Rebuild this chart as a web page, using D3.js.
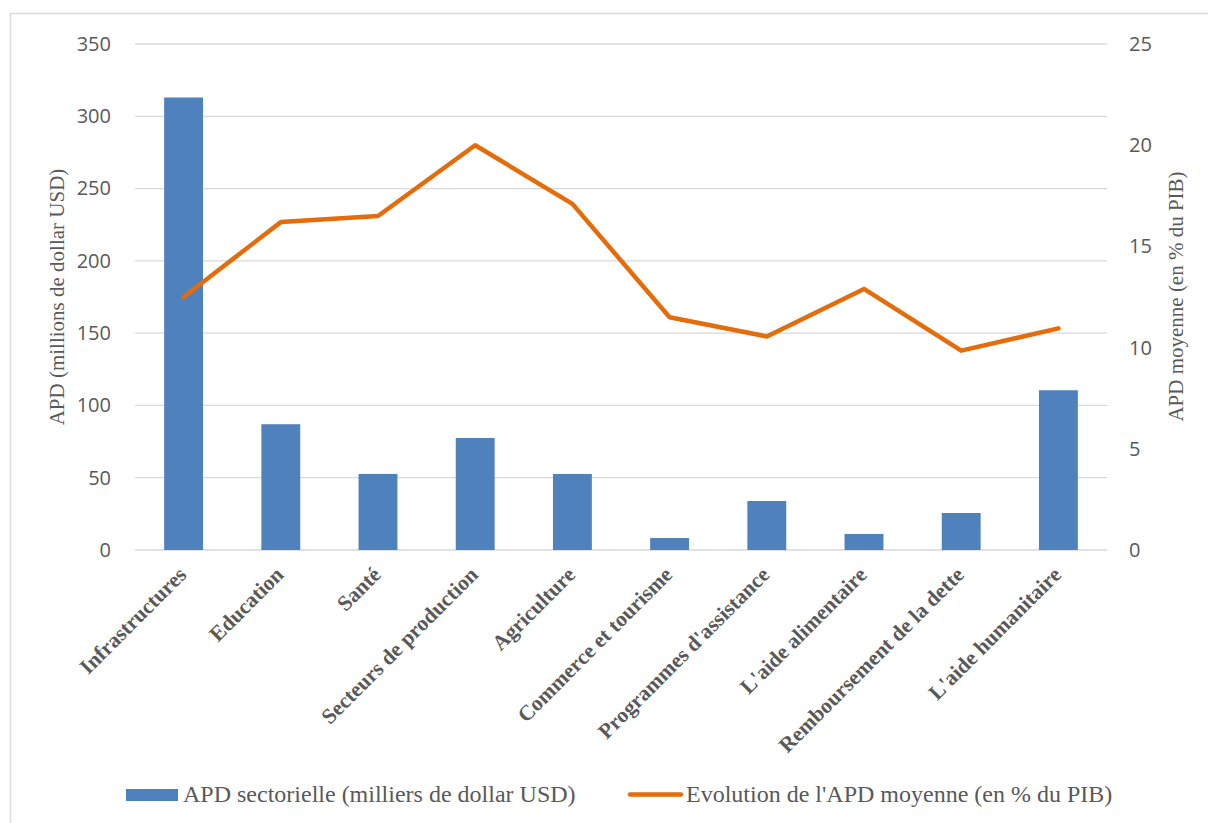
<!DOCTYPE html>
<html>
<head>
<meta charset="utf-8">
<script src="https://cdn.jsdelivr.net/npm/d3@7"></script>
<style>
  body { margin: 0; background: #fff; }
  svg { display: block; }
  .serif { font-family: "Times New Roman", "Liberation Serif", serif; }
  .sans { font-family: "Open Sans", "Noto Sans", sans-serif; }
</style>
</head>
<body>
<div id="chart"></div>
<script>
// data
const categories = ['Infrastructures', 'Education', 'Santé', 'Secteurs de production', 'Agriculture',
  'Commerce et tourisme', "Programmes d'assistance", "L'aide alimentaire",
  'Remboursement de la dette', "L'aide humanitaire"];
const apdSectorielle = [313, 87, 52.6, 77.5, 52.6, 8.3, 33.9, 11.1, 25.6, 110.5];
const apdMoyenne = [12.5, 16.2, 16.5, 20.0, 17.1, 11.5, 10.55, 12.9, 9.85, 10.95];
const leftTicks = [0, 50, 100, 150, 200, 250, 300, 350];
const rightTicks = [0, 5, 10, 15, 20, 25];

const width = 1208, height = 823;
const margin = { top: 44, right: 101, bottom: 273, left: 135 };
const innerW = width - margin.left - margin.right;
const innerH = height - margin.top - margin.bottom;

const svg = d3.select('#chart').append('svg')
  .attr('width', width)
  .attr('height', height);

// outer chart border
svg.append('rect')
  .attr('x', 10.5).attr('y', 13.5)
  .attr('width', 1210).attr('height', 820)
  .attr('fill', 'none')
  .attr('stroke', '#d9d9d9')
  .attr('stroke-width', 1.5);

const g = svg.append('g').attr('transform', `translate(${margin.left},${margin.top})`);

const x = d3.scaleBand().domain(categories).range([0, innerW]).paddingInner(0.6).paddingOuter(0.3);
const yL = d3.scaleLinear().domain([0, 350]).range([innerH, 0]);
const yR = d3.scaleLinear().domain([0, 25]).range([innerH, 0]);

// gridlines
g.append('g')
  .selectAll('line')
  .data(leftTicks)
  .join('line')
  .attr('x1', 0).attr('x2', innerW)
  .attr('y1', d => yL(d)).attr('y2', d => yL(d))
  .attr('stroke', '#d9d9d9')
  .attr('stroke-width', 1.3);

// left axis
const axL = g.append('g')
  .call(d3.axisLeft(yL).tickValues(leftTicks).tickSize(0).tickPadding(24));
axL.select('.domain').remove();
axL.attr('font-family', null).attr('font-size', null);
axL.selectAll('text')
  .attr('class', 'sans')
  .style('font-size', '20px')
  .attr('fill', '#595959');

// right axis
const axR = g.append('g')
  .attr('transform', `translate(${innerW},0)`)
  .call(d3.axisRight(yR).tickValues(rightTicks).tickSize(0).tickPadding(22));
axR.select('.domain').remove();
axR.attr('font-family', null).attr('font-size', null);
axR.selectAll('text')
  .attr('class', 'sans')
  .style('font-size', '20px')
  .attr('fill', '#595959');

// bars
g.append('g')
  .selectAll('rect')
  .data(categories)
  .join('rect')
  .attr('x', d => x(d))
  .attr('y', (d, i) => yL(apdSectorielle[i]))
  .attr('width', x.bandwidth())
  .attr('height', (d, i) => innerH - yL(apdSectorielle[i]))
  .attr('fill', '#4f81bd');

// line
const line = d3.line()
  .x((d, i) => x(categories[i]) + x.bandwidth() / 2)
  .y(d => yR(d));
g.append('path')
  .datum(apdMoyenne)
  .attr('d', line)
  .attr('fill', 'none')
  .attr('stroke', '#e46c0a')
  .attr('stroke-width', 4.5)
  .attr('stroke-linejoin', 'round')
  .attr('stroke-linecap', 'round');

// x category labels
g.append('g')
  .selectAll('text')
  .data(categories)
  .join('text')
  .attr('class', 'serif')
  .attr('transform', d => `translate(${x(d) + x.bandwidth() / 2 + 4},${innerH + 26}) rotate(-45)`)
  .attr('text-anchor', 'end')
  .style('font-weight', 'bold')
  .style('font-size', '21.5px')
  .attr('fill', '#595959')
  .text(d => d);

// axis titles
svg.append('text')
  .attr('class', 'serif')
  .attr('transform', `translate(64,${margin.top + innerH / 2}) rotate(-90)`)
  .attr('text-anchor', 'middle')
  .style('font-size', '21px')
  .attr('fill', '#595959')
  .text('APD (millions de dollar USD)');

svg.append('text')
  .attr('class', 'serif')
  .attr('transform', `translate(1183,${margin.top + innerH / 2 - 0.5}) rotate(-90)`)
  .attr('text-anchor', 'middle')
  .style('font-size', '21px')
  .attr('fill', '#595959')
  .text('APD moyenne (en % du PIB)');

// legend
const legend = svg.append('g');

legend.append('rect')
  .attr('x', 126).attr('y', 789)
  .attr('width', 52).attr('height', 12)
  .attr('fill', '#4f81bd');
legend.append('text')
  .attr('class', 'serif')
  .attr('x', 183).attr('y', 802)
  .style('font-size', '24px')
  .attr('fill', '#595959')
  .text('APD sectorielle (milliers de dollar USD)');

legend.append('line')
  .attr('x1', 630).attr('x2', 681)
  .attr('y1', 794.5).attr('y2', 794.5)
  .attr('stroke', '#e46c0a')
  .attr('stroke-width', 4.5)
  .attr('stroke-linecap', 'round');
legend.append('text')
  .attr('class', 'serif')
  .attr('x', 686).attr('y', 802)
  .style('font-size', '24px')
  .attr('fill', '#595959')
  .text("Evolution de l'APD moyenne (en % du PIB)");
</script>
</body>
</html>
